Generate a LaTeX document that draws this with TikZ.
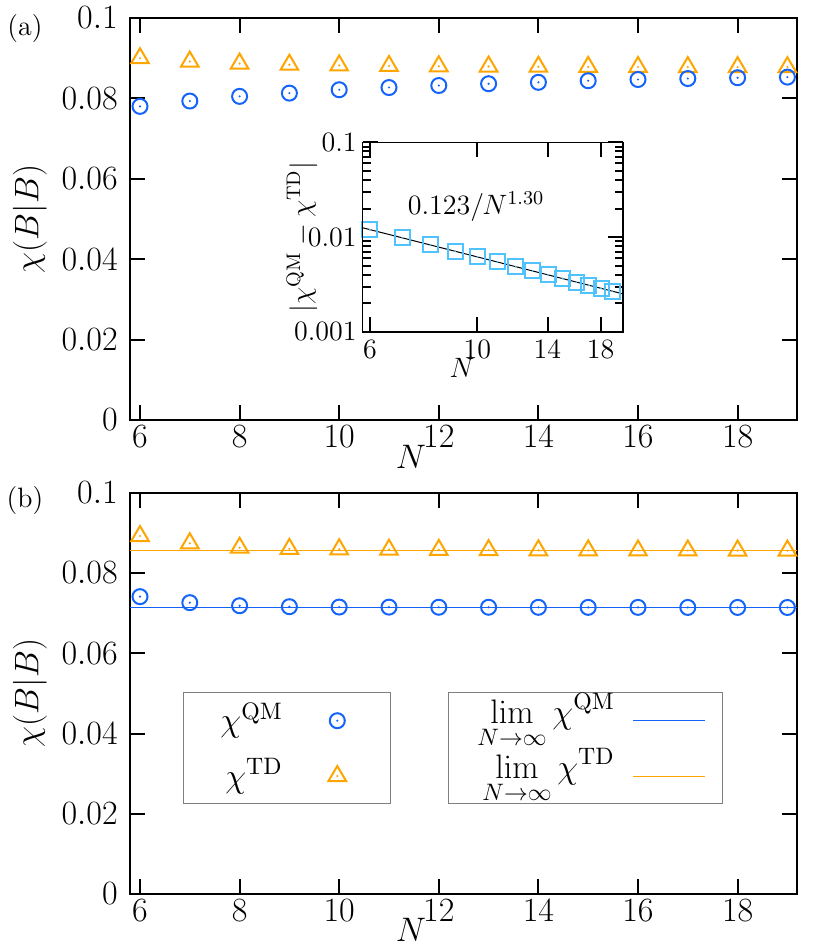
\RequirePackage{fix-cm}
\documentclass[tikz,border=0pt]{standalone}
\usepackage{amsmath}
\definecolor{qmblue}{RGB}{20,100,250}
\definecolor{tdorange}{RGB}{255,165,0}
\definecolor{fitblue}{RGB}{80,195,255}
\tikzset{
  axframe/.style={line width=1pt},
  axtick/.style={line width=1pt},
  keybox/.style={draw=gray,line width=0.5pt},
  qmmark/.pic={\draw[qmblue,line width=1pt] (0,0) circle[radius=3.75pt];
    \fill[qmblue] (0,0) circle[radius=0.6pt];},
  tdmark/.pic={\draw[tdorange,line width=1pt] (0pt,5pt) -- (-4.4pt,-2.5pt) -- (4.4pt,-2.5pt) -- cycle;
    \fill[tdorange] (0,0) circle[radius=0.6pt];},
  fitmark/.pic={\draw[fitblue,line width=1pt] (-3.75pt,-3.75pt) rectangle (3.75pt,3.75pt);
    \fill[fitblue] (0,0) circle[radius=0.5pt];},
}
\begin{document}
\begin{tikzpicture}[x=0.5pt,y=-0.5pt,every node/.style={inner sep=0pt},
  font=\fontsize{17}{20}\selectfont]
  \useasboundingbox (0,0) rectangle (830,949);

  % panel (a)
  \node[font=\fontsize{14}{17}\selectfont] (la) at (25,29) {(a)};
  \node[rotate=90] (ylabela) at (30,219) {$\chi(B|B)$};
  \node (xlabela) at (411,457) {$N$};
  \begin{scope}[shift={(-158.8,420)},x=24.9pt,y=2010pt]
    \draw[axframe] (5.8,0) rectangle (19.2,0.1);
    \foreach \n in {6,8,...,18} {
      \draw[axtick] (\n,0) -- ++(0pt,7.5pt);
      \draw[axtick] (\n,0.1) -- ++(0pt,-7.5pt);
      \node[yshift=-8.5pt] (xa\n) at (\n,0) {$\n$};
    }
    \foreach \v [count=\i] in {0,0.02,0.04,0.06,0.08,0.1} {
      \draw[axtick] (5.8,\v) -- ++(7.5pt,0pt);
      \draw[axtick] (19.2,\v) -- ++(-7.5pt,0pt);
      \node[anchor=east,xshift=-6pt] (ya\i) at (5.8,\v) {$\v$};
    }
    \foreach \n/\td/\qm in {6/0.0900/0.07802, 7/0.08915/0.07935, 8/0.08867/0.08050,
        9/0.08838/0.08131, 10/0.08820/0.08215, 11/0.08807/0.08270, 12/0.08799/0.08320,
        13/0.08793/0.08365, 14/0.08788/0.08400, 15/0.08785/0.08440, 16/0.08782/0.08470,
        17/0.08780/0.08495, 18/0.08779/0.08515, 19/0.08777/0.08530} {
      \pic at (\n,\td) {tdmark};
      \pic at (\n,\qm) {qmmark};
    }
  \end{scope}

  % inset
  \begin{scope}[shift={(-7.39,47.6)},x=105.25pt,y=47.35pt]
    \fill[white] ({ln(5.8)},-3) rectangle ({ln(20)},-1);
    \foreach \n in {6,10,14,18} {
      \draw[axtick] ({ln(\n)},-3) -- ++(0pt,7.5pt);
      \draw[axtick] ({ln(\n)},-1) -- ++(0pt,-7.5pt);
    }
    \foreach \e in {-3,-2,-1} {
      \draw[axtick] ({ln(5.8)},\e) -- ++(7.5pt,0pt);
      \draw[axtick] ({ln(20)},\e) -- ++(-7.5pt,0pt);
    }
    \foreach \e in {-3,-2} {
      \foreach \m in {2,...,9} {
        \draw[axtick] ({ln(5.8)},{\e+log10(\m)}) -- ++(4pt,0pt);
        \draw[axtick] ({ln(20)},{\e+log10(\m)}) -- ++(-4pt,0pt);
      }
    }
    \draw[line width=0.5pt] ({ln(5.8)},{log10(0.123)-1.3*log10(5.8)})
      -- ({ln(20)},{log10(0.123)-1.3*log10(20)});
    \foreach \n in {6,...,19} {
      \pic at ({ln(\n)},{log10(0.123)-1.3*log10(\n)}) {fitmark};
    }
    \draw[line width=0.8pt] ({ln(5.8)},-3) rectangle ({ln(20)},-1);
  \end{scope}
  \begin{scope}[font=\fontsize{14}{17}\selectfont]
    \node (fit) at (476,207) {$0.123/N^{1.30}$};
    \node[rotate=90] (ylabeli) at (302,237) {$|\chi^{\mathrm{QM}}-\chi^{\mathrm{TD}}|$};
    \node (xlabeli) at (462,368) {$N$};
    \node[anchor=east] (yi1) at (357,142.3) {$0.1$};
    \node[anchor=east] (yi2) at (357,237) {$0.01$};
    \node[anchor=east] (yi3) at (357,331.7) {$0.001$};
    \node (xi6) at (370,349) {$6$};
    \node (xi10) at (477.3,349) {$10$};
    \node (xi14) at (547.3,349) {$14$};
    \node (xi18) at (600.7,349) {$18$};
  \end{scope}

  % panel (b)
  \node[font=\fontsize{14}{17}\selectfont] (lb) at (25,501) {(b)};
  \node[rotate=90] (ylabelb) at (30,693) {$\chi(B|B)$};
  \node (xlabelb) at (411,930) {$N$};
  \begin{scope}[shift={(-158.8,894)},x=24.9pt,y=2006.5pt]
    \draw[axframe] (5.8,0) rectangle (19.2,0.1);
    \foreach \n in {6,8,...,18} {
      \draw[axtick] (\n,0) -- ++(0pt,7.5pt);
      \draw[axtick] (\n,0.1) -- ++(0pt,-7.5pt);
      \node[yshift=-8.5pt] (xb\n) at (\n,0) {$\n$};
    }
    \foreach \v [count=\i] in {0,0.02,0.04,0.06,0.08,0.1} {
      \draw[axtick] (5.8,\v) -- ++(7.5pt,0pt);
      \draw[axtick] (19.2,\v) -- ++(-7.5pt,0pt);
      \node[anchor=east,xshift=-6pt] (yb\i) at (5.8,\v) {$\v$};
    }
    \draw[qmblue,line width=0.5pt] (5.8,0.0714) -- (19.2,0.0714);
    \draw[tdorange,line width=0.5pt] (5.8,0.0855) -- (19.2,0.0855);
    \foreach \n/\td/\qm in {6/0.0892/0.0741, 7/0.0874/0.0726, 8/0.0863/0.07184,
        9/0.0860/0.0716, 10/0.0859/0.0715, 11/0.0858/0.07148, 12/0.08575/0.07146,
        13/0.0857/0.07145, 14/0.08565/0.07144, 15/0.08562/0.07143, 16/0.0856/0.07142,
        17/0.0856/0.07141, 18/0.08558/0.07141, 19/0.08557/0.0714} {
      \pic at (\n,\td) {tdmark};
      \pic at (\n,\qm) {qmmark};
    }
  \end{scope}

  % keys
  \draw[keybox] (183.3,692.3) rectangle (390,803);
  \node[anchor=east] (kqm) at (283,720.7) {$\chi^{\mathrm{QM}}$};
  \pic at (337.3,720.7) {qmmark};
  \node[anchor=east] (ktd) at (283,776) {$\chi^{\mathrm{TD}}$};
  \pic at (337.3,776) {tdmark};
  \draw[keybox] (448.3,692.3) rectangle (722.3,803);
  \node[anchor=east] (klimqm) at (615,720.7) {$\displaystyle\lim_{N\to\infty}\chi^{\mathrm{QM}}$};
  \draw[qmblue,line width=0.5pt] (633.3,720.7) -- (705,720.7);
  \node[anchor=east] (klimtd) at (615,776) {$\displaystyle\lim_{N\to\infty}\chi^{\mathrm{TD}}$};
  \draw[tdorange,line width=0.5pt] (633.3,776) -- (705,776);
\end{tikzpicture}
\end{document}
